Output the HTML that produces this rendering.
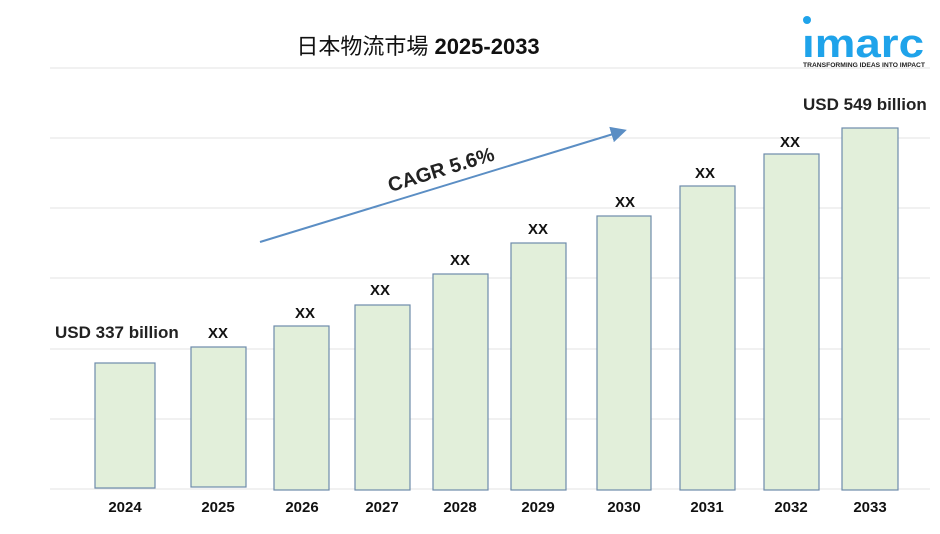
<!DOCTYPE html>
<html><head><meta charset="utf-8"><style>
body{margin:0;width:940px;height:529px;background:#fff;overflow:hidden;font-family:"Liberation Sans","Noto Sans CJK JP",sans-serif}
</style></head><body>
<svg width="940" height="529" xmlns="http://www.w3.org/2000/svg" font-family="Liberation Sans, Noto Sans CJK JP, sans-serif">
<defs><marker id="a" markerWidth="8" markerHeight="8" refX="6" refY="4" orient="auto"><path d="M0,0 L8,4 L0,8 z" fill="#5b8ec4"/></marker></defs>
<g stroke="#e3e3e3" stroke-width="1">
<line x1="50" y1="68" x2="930" y2="68"/><line x1="50" y1="138" x2="930" y2="138"/><line x1="50" y1="208" x2="930" y2="208"/><line x1="50" y1="278" x2="930" y2="278"/><line x1="50" y1="349" x2="930" y2="349"/><line x1="50" y1="419" x2="930" y2="419"/><line x1="50" y1="489" x2="930" y2="489"/>
</g>
<text x="418" y="54" text-anchor="middle" font-size="22" fill="#111">日本物流市場 <tspan font-weight="bold">2025-2033</tspan></text>
<g fill="#e2efda" stroke="#6d8bab" stroke-width="1.2">
<rect x="95" y="363" width="60" height="125"/>
<rect x="191" y="347" width="55" height="140"/>
<rect x="274" y="326" width="55" height="164"/>
<rect x="355" y="305" width="55" height="185"/>
<rect x="433" y="274" width="55" height="216"/>
<rect x="511" y="243" width="55" height="247"/>
<rect x="597" y="216" width="54" height="274"/>
<rect x="680" y="186" width="55" height="304"/>
<rect x="764" y="154" width="55" height="336"/>
<rect x="842" y="128" width="56" height="362"/>
</g>
<g font-size="15" font-weight="bold" fill="#111" text-anchor="middle">
<text x="125" y="512">2024</text><text x="218" y="512">2025</text><text x="302" y="512">2026</text><text x="382" y="512">2027</text><text x="460" y="512">2028</text><text x="538" y="512">2029</text><text x="624" y="512">2030</text><text x="707" y="512">2031</text><text x="791" y="512">2032</text><text x="870" y="512">2033</text>
<text x="218" y="338">XX</text><text x="305" y="318">XX</text><text x="380" y="295">XX</text><text x="460" y="265">XX</text><text x="538" y="234">XX</text><text x="625" y="207">XX</text><text x="705" y="178">XX</text><text x="790" y="147">XX</text>
</g>
<text x="55" y="338" font-size="17" font-weight="bold" fill="#222">USD 337 billion</text>
<text x="803" y="110" font-size="17" font-weight="bold" fill="#222">USD 549 billion</text>
<line x1="260" y1="242" x2="623" y2="131" stroke="#5b8ec4" stroke-width="2" marker-end="url(#a)"/>
<text x="443" y="176" font-size="20" font-weight="bold" fill="#222" text-anchor="middle" transform="rotate(-17 443 176)">CAGR 5.6%</text>
<circle cx="807" cy="20" r="4" fill="#1fa3ea"/>
<text x="802" y="57" font-size="40" font-weight="bold" fill="#1fa3ea" textLength="122" lengthAdjust="spacingAndGlyphs">ımarc</text>
<text x="864" y="67" font-size="6.5" font-weight="bold" fill="#222" text-anchor="middle" textLength="122" lengthAdjust="spacingAndGlyphs">TRANSFORMING IDEAS INTO IMPACT</text>
</svg>
</body></html>
